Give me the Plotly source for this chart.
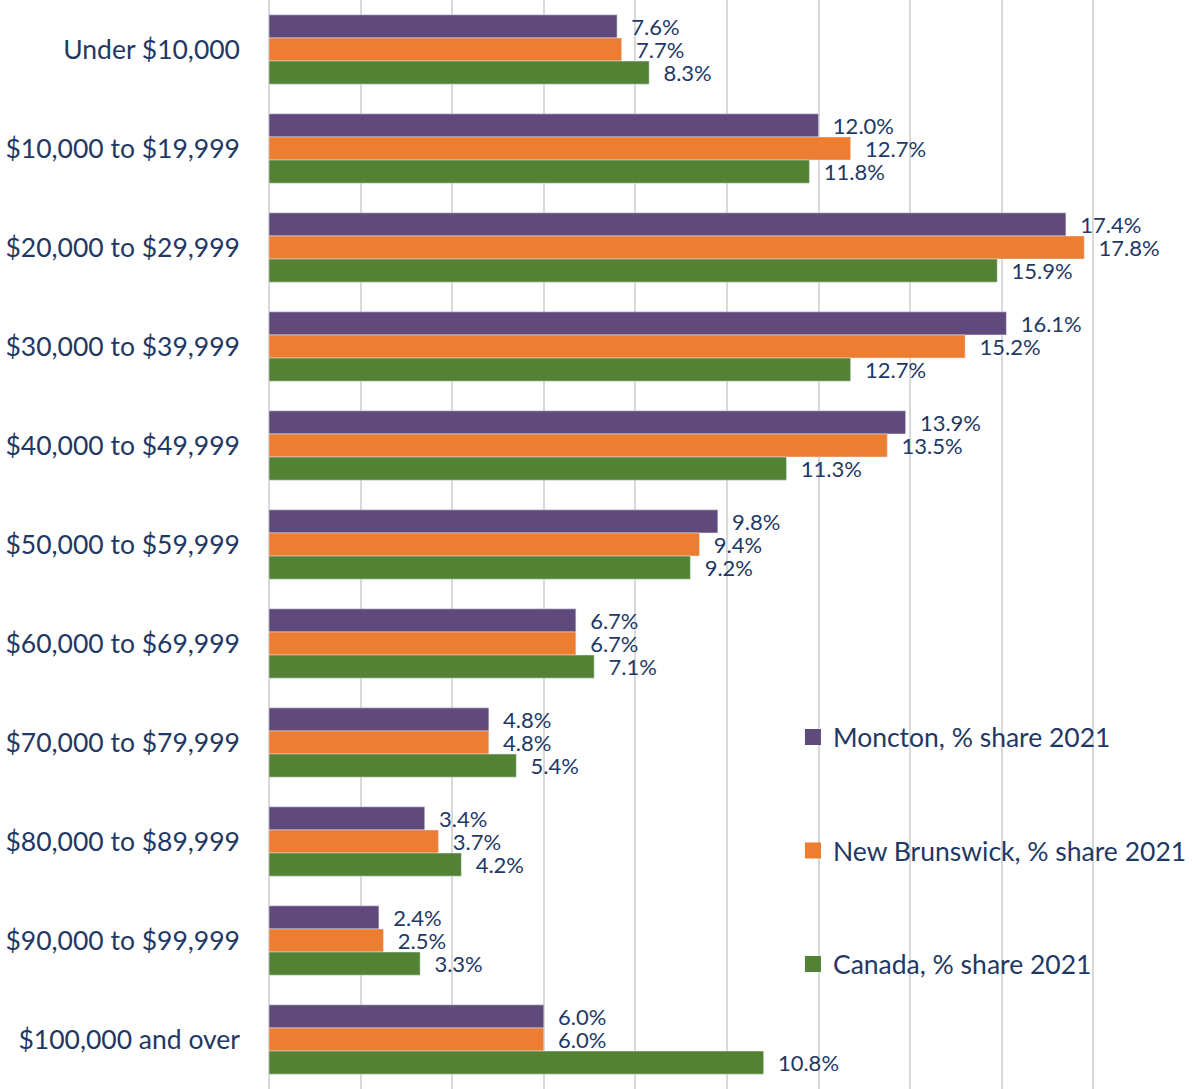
import plotly.graph_objects as go

categories = ["Under $10,000", "$10,000 to $19,999", "$20,000 to $29,999", "$30,000 to $39,999",
              "$40,000 to $49,999", "$50,000 to $59,999", "$60,000 to $69,999", "$70,000 to $79,999",
              "$80,000 to $89,999", "$90,000 to $99,999", "$100,000 and over"]
moncton = [7.6, 12.0, 17.4, 16.1, 13.9, 9.8, 6.7, 4.8, 3.4, 2.4, 6.0]
new_brunswick = [7.7, 12.7, 17.8, 15.2, 13.5, 9.4, 6.7, 4.8, 3.7, 2.5, 6.0]
canada = [8.3, 11.8, 15.9, 12.7, 11.3, 9.2, 7.1, 5.4, 4.2, 3.3, 10.8]

series = [
    ("Moncton, % share 2021", moncton, "#604A7B"),
    ("New Brunswick, % share 2021", new_brunswick, "#ED7D31"),
    ("Canada, % share 2021", canada, "#548235"),
]

navy = "#1F3864"
font_family = "Lato, 'Open Sans', sans-serif"

fig = go.Figure()
for i, (name, vals, color) in enumerate(series):
    fig.add_trace(go.Bar(
        y=categories, x=vals, name=name, orientation="h",
        marker=dict(color=color),
        texttemplate="\u00a0\u00a0%{x:.1f}%", textposition="outside",
        textfont=dict(size=22, color=navy, family=font_family),
        constraintext="none", cliponaxis=False,
        legendgroup=f"g{i}", showlegend=False,
    ))
# legend entries with larger square swatches
for i, (name, vals, color) in enumerate(series):
    fig.add_trace(go.Scatter(
        x=[None], y=[None], mode="markers", name=name,
        marker=dict(symbol="square", size=18, color=color),
        legendgroup=f"g{i}", showlegend=True, hoverinfo="skip",
    ))

fig.update_layout(
    width=1192, height=1089,
    margin=dict(l=269, r=0, t=0, b=0),
    barmode="group", bargap=0.3, bargroupgap=0,
    plot_bgcolor="white", paper_bgcolor="white",
    font=dict(family=font_family, color=navy),
    legend=dict(x=0.572, y=0.345, xanchor="left", yanchor="top",
                font=dict(size=26.5, color=navy, family=font_family),
                tracegroupgap=76, bgcolor="rgba(0,0,0,0)", itemsizing="trace"),
)
fig.update_xaxes(range=[0, 20], dtick=2, showgrid=True, gridcolor="#D9D9D9", gridwidth=2,
                 zeroline=True, zerolinecolor="#D9D9D9", zerolinewidth=2,
                 showticklabels=False, showline=False)
fig.update_yaxes(autorange="reversed", tickfont=dict(size=26.5, color=navy, family=font_family),
                 ticklabelstandoff=28, showline=False, ticks="")

fig.write_html("out.html", config={"displayModeBar": False},
               post_script="document.body.style.margin='0';document.body.style.overflow='hidden';")
